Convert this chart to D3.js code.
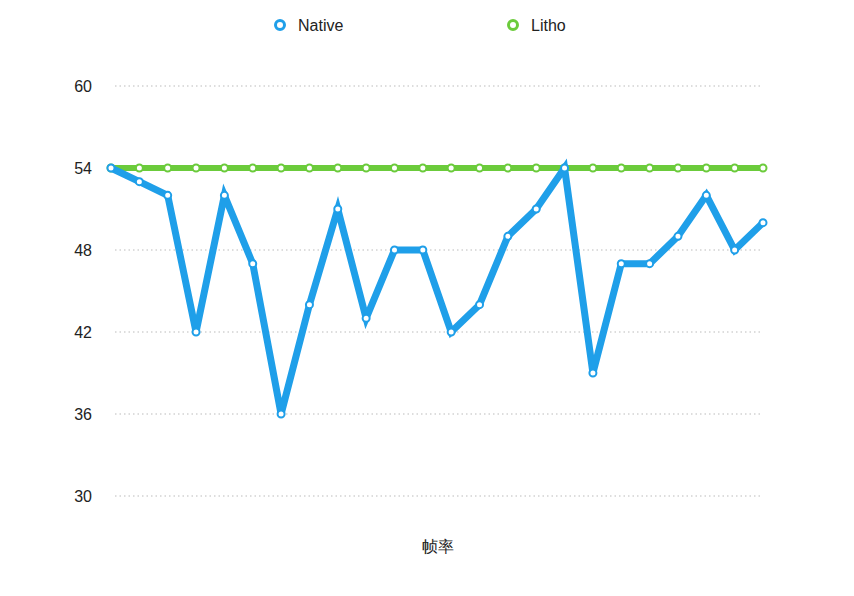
<!DOCTYPE html>
<html>
<head>
<meta charset="utf-8">
<script src="https://cdn.jsdelivr.net/npm/d3@7"></script>
<style>
  body { margin: 0; background: #fff; }
  text { font-family: "Helvetica Neue", "Liberation Sans", Arial, sans-serif; }
</style>
</head>
<body>
<svg id="chart"></svg>
<script>
const seriesNames = ['Native', 'Litho'];
const nativeValues = [54, 53, 52, 42, 52, 47, 36, 44, 51, 43, 48, 48, 42, 44, 49, 51, 54, 39, 47, 47, 49, 52, 48, 50];
const lithoValues = [54, 54, 54, 54, 54, 54, 54, 54, 54, 54, 54, 54, 54, 54, 54, 54, 54, 54, 54, 54, 54, 54, 54, 54];
const yTicks = [30, 36, 42, 48, 54, 60];
const xTitle = '帧率';

const width = 854, height = 596;
const colors = { Native: '#1f9fe9', Litho: '#6bcb3b' };

const svg = d3.select('#chart').attr('width', width).attr('height', height);

const x = d3.scaleLinear().domain([0, nativeValues.length - 1]).range([111, 763]);
const y = d3.scaleLinear().domain([30, 60]).range([496, 86]);

// grid
svg.append('g').selectAll('line').data(yTicks).join('line')
   .attr('x1', 115).attr('x2', 760)
   .attr('y1', d => y(d)).attr('y2', d => y(d))
   .attr('stroke', '#bbb').attr('stroke-width', 1)
   .attr('stroke-dasharray', '1.5,3');

// y axis labels
const yAxis = d3.axisLeft(y).tickValues(yTicks).tickSize(0).tickPadding(0);
svg.append('g').attr('transform', 'translate(92,0)').call(yAxis)
   .call(g => g.select('.domain').remove())
   .call(g => g.selectAll('text')
      .attr('font-size', 16).attr('fill', '#222')
      .attr('font-family', '"Helvetica Neue", "Liberation Sans", Arial, sans-serif'));

const line = d3.line().x((d, i) => x(i)).y(d => y(d));

function drawSeries(values, name, w) {
   let g = svg.append('g');
   g.append('path').datum(values)
      .attr('d', line)
      .attr('fill', 'none')
      .attr('stroke', colors[name])
      .attr('stroke-width', w)
      .attr('stroke-linejoin', 'miter')
      .attr('stroke-miterlimit', 4.2);
   g.selectAll('circle').data(values).join('circle')
      .attr('cx', (d, i) => x(i)).attr('cy', d => y(d))
      .attr('r', 3.5)
      .attr('fill', '#fff')
      .attr('stroke', colors[name])
      .attr('stroke-width', 2);
}

drawSeries(lithoValues, 'Litho', 6);
drawSeries(nativeValues, 'Native', 7);

// legend
const legendX = [280, 513];
const legend = svg.append('g').selectAll('g').data(seriesNames).join('g')
   .attr('transform', (d, i) => `translate(${legendX[i]},25)`);
legend.append('circle').attr('r', 4.5)
   .attr('fill', '#fff')
   .attr('stroke', d => colors[d]).attr('stroke-width', 3);
legend.append('text').attr('x', 18).attr('dy', '0.35em')
   .attr('font-size', 16).attr('fill', '#222')
   .text(d => d);

// x title
svg.append('text')
   .attr('x', 438).attr('y', 546)
   .attr('text-anchor', 'middle').attr('dy', '0.35em')
   .attr('font-size', 16).attr('fill', '#222')
   .attr('font-family', '"Noto Sans CJK SC", sans-serif')
   .text(xTitle);
</script>
</body>
</html>
